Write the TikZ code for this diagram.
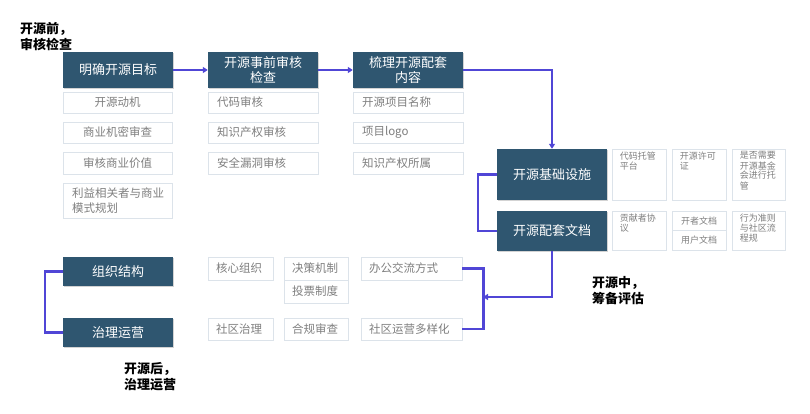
\documentclass[tikz,border=0pt]{standalone}
\usepackage{fontspec}
\setmainfont{Noto Sans CJK SC}
\usetikzlibrary{arrows.meta,shadows}
\definecolor{darkbox}{HTML}{2F5670}
\definecolor{subline}{HTML}{DCE3EA}
\definecolor{subtext}{HTML}{7F7F7F}
\definecolor{conncol}{HTML}{5046D6}
\begin{document}
\begin{tikzpicture}[x=1pt,y=-1pt,
  mainbox/.style={fill=darkbox,text=white,font=\fontsize{13}{15}\selectfont,
    minimum width=110pt,inner sep=0pt,align=center,
    drop shadow={opacity=0.35,shadow xshift=1pt,shadow yshift=-1.2pt}},
  subbox/.style={draw=subline,line width=0.8pt,fill=white,text=subtext,
    font=\fontsize{11.5}{15}\selectfont,inner sep=0pt},
  leftbox/.style={subbox,inner xsep=9pt,align=left},
  smallbox/.style={draw=subline,line width=0.8pt,fill=white,inner sep=0pt},
  smalltext/.style={text=subtext,font=\fontsize{9}{10}\selectfont,inner sep=0pt,
    align=left,anchor=north west},
  smallc/.style={subbox,font=\fontsize{9}{10}\selectfont},
  conn/.style={draw=conncol,line width=2.2pt},
  arr/.style={conn,-{Triangle[length=5pt,width=6pt]}},
  phase/.style={font=\bfseries\fontsize{13}{16}\selectfont,text=black,inner sep=0pt}
]
\useasboundingbox (0,0) rectangle (810,414);

% phase labels
\node[phase,align=right] (p1) at (46,37) {开源前，\\审核检查};
\node[phase,align=center] (p2) at (618,291) {开源中，\\筹备评估};
\node[phase,align=center] (p3) at (150,377) {开源后，\\治理运营};

% top row main boxes
\node[mainbox,minimum height=36pt] (A1) at (118,70) {明确开源目标};
\node[mainbox,minimum height=36pt] (A2) at (263,70) {开源事前审核\\[0pt]检查};
\node[mainbox,minimum height=36pt] (A3) at (408,70) {梳理开源配套\\[0pt]内容};

% column 1
\node[subbox,minimum width=109pt,minimum height=21pt] (a11) at (117.5,102.5) {开源动机};
\node[subbox,minimum width=109pt,minimum height=21pt] (a12) at (117.5,132.5) {商业机密审查};
\node[subbox,minimum width=109pt,minimum height=22pt] (a13) at (117.5,163) {审核商业价值};
\node[leftbox,text width=91pt,minimum height=35pt] (a14) at (117.5,200.5) {利益相关者与商业\\模式规划};

% column 2
\node[leftbox,text width=92pt,minimum height=21pt] (a21) at (263,102.5) {代码审核};
\node[leftbox,text width=92pt,minimum height=21pt] (a22) at (263,132.5) {知识产权审核};
\node[leftbox,text width=92pt,minimum height=22pt] (a23) at (263,163) {安全漏洞审核};

% column 3
\node[leftbox,text width=92pt,minimum height=21pt] (a31) at (408,102.5) {开源项目名称};
\node[leftbox,text width=92pt,minimum height=21pt] (a32) at (408,132.5) {项目logo};
\node[leftbox,text width=92pt,minimum height=22pt] (a33) at (408,163) {知识产权所属};

% middle main boxes
\node[mainbox,minimum height=51pt] (B1) at (552,174.5) {开源基础设施};
\node[mainbox,minimum height=40pt] (B2) at (552,231) {开源配套文档};

% small boxes right
\node[smallbox,minimum width=54pt,minimum height=51pt] (b11) at (639,174.5) {};
\node[smalltext] (t11) at ([xshift=8pt,yshift=-3pt]b11.north west) {代码托管\\平台};
\node[smallbox,minimum width=54pt,minimum height=51pt] (b12) at (699,174.5) {};
\node[smalltext] (t12) at ([xshift=8pt,yshift=-3pt]b12.north west) {开源许可\\证};
\node[smallbox,minimum width=53pt,minimum height=51pt] (b13) at (758.5,174.5) {};
\node[smalltext] (t13) at ([xshift=8pt,yshift=-3pt]b13.north west) {是否需要\\开源基金\\会进行托\\管};

\node[smallbox,minimum width=54pt,minimum height=39pt] (b21) at (639,230.5) {};
\node[smalltext] (t21) at ([xshift=8pt,yshift=-3pt]b21.north west) {贡献者协\\议};
\node[smallc,minimum width=54pt,minimum height=19.5pt] (b22) at (699,220.75) {开者文档};
\node[smallc,minimum width=54pt,minimum height=19.5pt] (b23) at (699,240.25) {用户文档};
\node[smallbox,minimum width=53pt,minimum height=39pt] (b24) at (758.5,230.5) {};
\node[smalltext] (t24) at ([xshift=8pt,yshift=-3pt]b24.north west) {行为准则\\与社区流\\程规};

% bottom main boxes
\node[mainbox,minimum height=29pt] (C1) at (118,271.5) {组织结构};
\node[mainbox,minimum height=29pt] (C2) at (118,332.5) {治理运营};

% bottom sub boxes
\node[leftbox,inner xsep=8pt,text width=49pt,minimum height=23pt] (d1) at (240.5,268.5) {核心组织};
\node[leftbox,inner xsep=8pt,text width=48pt,minimum height=23pt] (d2) at (316,268.5) {决策机制};
\node[leftbox,inner xsep=8pt,text width=48pt,minimum height=23pt] (d2b) at (316,291.5) {投票制度};
\node[leftbox,inner xsep=8pt,text width=85pt,minimum height=23pt] (d3) at (411.5,268.5) {办公交流方式};
\node[leftbox,inner xsep=8pt,text width=49pt,minimum height=22pt] (e1) at (240.5,329) {社区治理};
\node[leftbox,inner xsep=8pt,text width=48pt,minimum height=22pt] (e2) at (316,329) {合规审查};
\node[leftbox,inner xsep=8pt,text width=85pt,minimum height=22pt] (e3) at (411.5,329) {社区运营多样化};

% connectors
\draw[arr] (A1.east) -- (A2.west);
\draw[arr] (A2.east) -- (A3.west);
\draw[arr] (A3.east) -| (B1.north);
\draw[conn] (B1.west) -- ++(-19,0) |- (B2.west);
\coordinate (M) at (483,297);
\draw[arr] (B2.south) |- (M);
\draw[conn] (d3.east) -- ++(21,0) |- (e3.east);
\draw[conn] (C1.west) -- ++(-18,0) |- (C2.west);
\end{tikzpicture}
\end{document}
